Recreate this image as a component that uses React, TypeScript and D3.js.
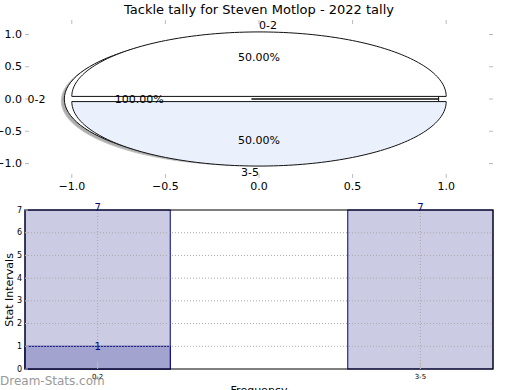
import * as d3 from "d3";

const title = "Tackle tally for Steven Motlop - 2022 tally";
const categories = ["0-2", "3-5"];
const tallies = [7, 7];
const highlight = [1, 0];
const pieTicks = [-1.0, -0.5, 0.0, 0.5, 1.0];
const barYTicks = [0, 1, 2, 3, 4, 5, 6, 7];

const font = "DejaVu Sans, sans-serif";
const explode = 0.04;

// top pie axes
const px = d3.scaleLinear().domain([-1.25, 1.25]).range([25, 493]);
const py = d3.scaleLinear().domain([-1.225, 1.225]).range([178, 20]);

// bottom bar axes
const bx = d3.scaleLinear().domain([-0.225, 1.225]).range([25, 493]);
const by = d3.scaleLinear().domain([0, 7]).range([369, 210]);
const barW = 0.45;

const fmt = (v: number) => d3.format(".1f")(v).replace("-", "\u2212");

function wedgePath(a0: number, a1: number, cx: number, cy: number) {
  const steps = d3.range(0, 121).map((i) => a0 + ((a1 - a0) * i) / 120);
  const pts: [number, number][] = [[cx, cy]];
  steps.forEach((a) => pts.push([cx + Math.cos(a), cy + Math.sin(a)]));
  const line = d3
    .line<[number, number]>()
    .x((d) => px(d[0]))
    .y((d) => py(d[1]));
  return line(pts) + "Z";
}

type Slice = {
  d: string;
  mid: number;
  cx: number;
  cy: number;
  label: string;
  pct: string;
  fill: string;
};

// matplotlib-style pie: counterclockwise from east, each wedge exploded along its mid angle
function slices(values: number[], labels: string[], fills: string[]): Slice[] {
  const total = d3.sum(values);
  let acc = 0;
  const out: Slice[] = [];
  values.forEach((v, i) => {
    if (v <= 0) return;
    const a0 = (acc / total) * 2 * Math.PI;
    acc += v;
    const a1 = (acc / total) * 2 * Math.PI;
    const mid = (a0 + a1) / 2;
    const cx = explode * Math.cos(mid);
    const cy = explode * Math.sin(mid);
    out.push({
      d: wedgePath(a0, a1, cx, cy),
      mid,
      cx,
      cy,
      label: labels[i],
      pct: d3.format(".2f")((v / total) * 100) + "%",
      fill: fills[i],
    });
  });
  return out;
}

function SliceLabels({ s }: { s: Slice }) {
  const lx = s.cx + 1.1 * Math.cos(s.mid);
  const ly = s.cy + 1.1 * Math.sin(s.mid);
  const tx = s.cx + 0.6 * Math.cos(s.mid);
  const ty = s.cy + 0.6 * Math.sin(s.mid);
  return (
    <g>
      <text
        x={px(lx)}
        y={py(ly)}
        textAnchor={Math.cos(s.mid) > 0 ? "start" : "end"}
        dominantBaseline="central"
        fontSize={11}
      >
        {s.label}
      </text>
      <text x={px(tx)} y={py(ty)} textAnchor="middle" dominantBaseline="central" fontSize={11}>
        {s.pct}
      </text>
    </g>
  );
}

export default function App() {
  const fullPie = slices(highlight, categories, ["#ffffff", "#ffffff"]);
  const halfPie = slices(tallies, categories, ["#ffffff", "#eaf0fc"]);
  const tickColor = "#bbbbbb";

  return (
    <svg width={520} height={390} style={{ position: "absolute", left: 0, top: 0 }} fontFamily={font}>
      <rect width={520} height={390} fill="#fff" />
      <text x={259} y={14} textAnchor="middle" fontSize={13}>
        {title}
      </text>

      {/* pie axes ticks */}
      {pieTicks.map((t) => (
        <g key={"py" + t}>
          <line x1={25} x2={29} y1={py(t)} y2={py(t)} stroke={tickColor} />
          <line x1={489} x2={493} y1={py(t)} y2={py(t)} stroke={tickColor} />
          <text x={22} y={py(t)} textAnchor="end" dominantBaseline="central" fontSize={11}>
            {fmt(t)}
          </text>
        </g>
      ))}
      {pieTicks.map((t) => (
        <g key={"px" + t}>
          <line x1={px(t)} x2={px(t)} y1={20} y2={24} stroke={tickColor} />
          <line x1={px(t)} x2={px(t)} y1={174} y2={178} stroke={tickColor} />
          <text x={px(t)} y={186} textAnchor="middle" dominantBaseline="central" fontSize={11}>
            {fmt(t)}
          </text>
        </g>
      ))}

      {fullPie.map((s, i) => (
        <g key={"f" + i}>
          <path d={s.d} transform="translate(-3,2)" fill="#777" opacity={0.6} stroke="#999" />
          <path d={s.d} fill={s.fill} stroke="#111" />
        </g>
      ))}
      {halfPie.map((s, i) => (
        <path key={"h" + i} d={s.d} fill={s.fill} stroke="#111" />
      ))}
      {fullPie.concat(halfPie).map((s, i) => (
        <SliceLabels key={"t" + i} s={s} />
      ))}

      {/* bar chart */}
      {categories.map((c, i) => (
        <rect
          key={"b" + c}
          x={bx(i - barW / 2)}
          y={by(tallies[i])}
          width={bx(barW) - bx(0)}
          height={by(0) - by(tallies[i])}
          fill="#cbcbe3"
          stroke="#000080"
        />
      ))}
      {categories.map((c, i) =>
        highlight[i] > 0 ? (
          <rect
            key={"d" + c}
            x={bx(i - barW / 2)}
            y={by(highlight[i])}
            width={bx(barW) - bx(0)}
            height={by(0) - by(highlight[i])}
            fill="#a3a3cf"
            stroke="#000080"
          />
        ) : null
      )}
      {barYTicks.slice(1, -1).map((t) => (
        <line key={"g" + t} x1={25} x2={493} y1={by(t)} y2={by(t)} stroke="#aaa" strokeDasharray="1,2" />
      ))}
      {categories.map((c, i) => (
        <line key={"gx" + c} x1={bx(i)} x2={bx(i)} y1={210} y2={369} stroke="#aaa" strokeDasharray="1,2" />
      ))}
      <rect x={25} y={210} width={468} height={159} fill="none" stroke="#000" />
      {barYTicks.map((t) => (
        <g key={"by" + t}>
          <line x1={25} x2={28} y1={by(t)} y2={by(t)} stroke={tickColor} />
          <text x={22} y={by(t)} textAnchor="end" dominantBaseline="central" fontSize={8}>
            {t}
          </text>
        </g>
      ))}
      {categories.map((c, i) => (
        <g key={"bx" + c}>
          <line x1={bx(i)} x2={bx(i)} y1={362} y2={369} stroke={tickColor} />
          <text x={bx(i)} y={377} textAnchor="middle" dominantBaseline="central" fontSize={7}>
            {c}
          </text>
        </g>
      ))}
      {categories.map((c, i) => (
        <text key={"l" + c} x={bx(i)} y={by(tallies[i]) + 1} textAnchor="middle" fontSize={10} fill="#000080">
          {tallies[i]}
        </text>
      ))}
      {categories.map((c, i) =>
        highlight[i] > 0 ? (
          <text
            key={"hl" + c}
            x={bx(i)}
            y={by(highlight[i])}
            textAnchor="middle"
            dominantBaseline="central"
            fontSize={10}
            fill="#000080"
          >
            {highlight[i]}
          </text>
        ) : null
      )}
      <text
        transform="translate(9,290) rotate(-90)"
        textAnchor="middle"
        dominantBaseline="central"
        fontSize={11}
      >
        Stat Intervals
      </text>
      <text x={259} y={394} textAnchor="middle" fontSize={11}>
        Frequency
      </text>
      <text x={0} y={385} fontSize={12} fill="#888" opacity={0.85}>
        Dream-Stats.com
      </text>
    </svg>
  );
}
